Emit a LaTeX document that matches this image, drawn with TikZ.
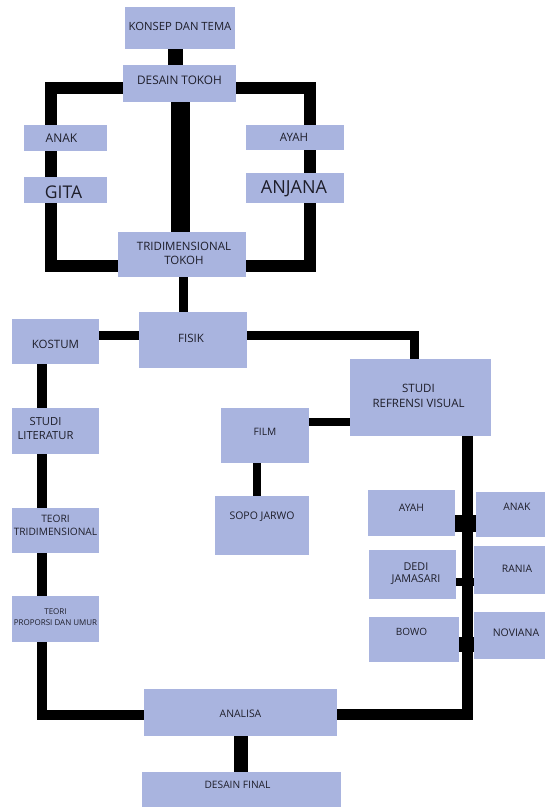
\documentclass[tikz,border=0pt]{standalone}
\usepackage{fontspec}
\setmainfont{Open Sans}
\definecolor{boxc}{HTML}{A9B4DF}
\definecolor{txtc}{HTML}{1E1E2A}
\newcommand\fsz[2]{\fontsize{#1}{#2}\selectfont}
\pgfdeclarelayer{back}
\pgfdeclarelayer{bg}
\pgfsetlayers{back,bg,main}
\begin{document}
\begin{tikzpicture}[x=1pt,y=-1pt,
  bx/.style={fill=boxc, inner sep=0pt, outer sep=0pt},
  lbl/.style={text=txtc, align=center, inner sep=0pt},
  cn/.style={draw=black, line width=#1}]
\begin{pgfonlayer}{back}
\fill[white] (0,0) rectangle (545,807);
\end{pgfonlayer}
\useasboundingbox (0,0) rectangle (545,807);

% boxes
\node[bx,minimum width=110pt,minimum height=42pt] (konsep) at (180,28) {};
\node[bx,minimum width=113pt,minimum height=37pt] (desain) at (179.5,83.5) {};
\node[bx,minimum width=83pt,minimum height=26pt] (anakL) at (65.5,138) {};
\node[bx,minimum width=83pt,minimum height=26pt] (gita) at (65.5,190) {};
\node[bx,minimum width=98pt,minimum height=25pt] (ayahT) at (295,137.5) {};
\node[bx,minimum width=98pt,minimum height=30pt] (anjana) at (295,188) {};
\node[bx,minimum width=128pt,minimum height=45pt] (tri) at (182,254.5) {};
\node[bx,minimum width=108pt,minimum height=56pt] (fisik) at (193,340) {};
\node[bx,minimum width=87pt,minimum height=45pt] (kostum) at (55.5,341.5) {};
\node[bx,minimum width=87pt,minimum height=46pt] (studlit) at (55.5,431) {};
\node[bx,minimum width=87pt,minimum height=45pt] (teoritri) at (55.5,530.5) {};
\node[bx,minimum width=87pt,minimum height=46pt] (teoriprop) at (55.5,619) {};
\node[bx,minimum width=88pt,minimum height=55pt] (film) at (265,435.5) {};
\node[bx,minimum width=94pt,minimum height=59pt] (sopo) at (262,525.5) {};
\node[bx,minimum width=141pt,minimum height=77pt] (studiref) at (420.5,397.5) {};
\node[bx,minimum width=87pt,minimum height=46pt] (ayahR) at (411.5,513) {};
\node[bx,minimum width=69pt,minimum height=45pt] (anakR) at (510.5,514.5) {};
\node[bx,minimum width=87pt,minimum height=49pt] (dedi) at (412.5,574.5) {};
\node[bx,minimum width=71pt,minimum height=48pt] (rania) at (509.5,570) {};
\node[bx,minimum width=90pt,minimum height=45pt] (bowo) at (414,639.5) {};
\node[bx,minimum width=71pt,minimum height=47pt] (noviana) at (509.5,635.5) {};
\node[bx,minimum width=193pt,minimum height=47pt] (analisa) at (240.5,712.5) {};
\node[bx,minimum width=199pt,minimum height=35pt] (final) at (241.5,789.5) {};

% texts
\node[lbl,font=\fsz{11.3}{13}] (konsepT) at ([yshift=2pt]konsep.center) {KONSEP DAN TEMA};
\node[lbl,font=\fsz{11.8}{13}] (desainT) at ([yshift=3pt]desain.center) {DESAIN TOKOH};
\node[lbl,font=\fsz{12}{14}] (anakLT) at ([xshift=-4pt]anakL.center) {ANAK};
\node[lbl,font=\fsz{17.5}{19}] (gitaT) at ([xshift=-2pt,yshift=-2pt]gita.center) {GITA};
\node[lbl,font=\fsz{11.5}{13}] (ayahTT) at ([xshift=-1pt]ayahT.center) {AYAH};
\node[lbl,font=\fsz{18}{19}] (anjanaT) at ([xshift=-1pt,yshift=-1pt]anjana.center) {ANJANA};
\node[lbl,font=\fsz{11.5}{14}] (triT) at ([xshift=2pt,yshift=1.5pt]tri.center) {TRIDIMENSIONAL\\TOKOH};
\node[lbl,font=\fsz{11.5}{13}] (fisikT) at ([xshift=-2pt,yshift=2pt]fisik.center) {FISIK};
\node[lbl,font=\fsz{11.5}{13}] (kostumT) at ([yshift=-3pt]kostum.center) {KOSTUM};
\node[lbl,font=\fsz{11.2}{14}] (studlitT) at ([xshift=-10pt,yshift=2.5pt]studlit.center) {STUDI\\LITERATUR};
\node[lbl,font=\fsz{10.2}{12.5}] (teoritriT) at ([yshift=5pt]teoritri.center) {TEORI\\TRIDIMENSIONAL};
\node[lbl,font=\fsz{8}{11}] (teoripropT) at ([yshift=2pt]teoriprop.center) {TEORI\\PROPORSI DAN UMUR};
\node[lbl,font=\fsz{10.2}{12}] (filmT) at ([yshift=4pt]film.center) {FILM};
\node[lbl,font=\fsz{10.5}{12}] (sopoT) at ([yshift=9pt]sopo.center) {SOPO JARWO};
\node[lbl,font=\fsz{11.5}{14.5}] (studirefT) at ([xshift=-2pt,yshift=1.5pt]studiref.center) {STUDI\\REFRENSI VISUAL};
\node[lbl,font=\fsz{10.3}{12}] (ayahRT) at ([yshift=5.5pt]ayahR.center) {AYAH};
\node[lbl,font=\fsz{10.3}{12}] (anakRT) at ([xshift=6.5pt,yshift=8pt]anakR.center) {ANAK};
\node[lbl,font=\fsz{10.8}{12}] (dediT) at ([xshift=3.5pt,yshift=1pt]dedi.center) {DEDI\\JAMASARI};
\node[lbl,font=\fsz{10.3}{12}] (raniaT) at ([xshift=7.5pt,yshift=1.5pt]rania.center) {RANIA};
\node[lbl,font=\fsz{10}{12}] (bowoT) at ([xshift=-2.5pt,yshift=8pt]bowo.center) {BOWO};
\node[lbl,font=\fsz{10.5}{12}] (novianaT) at ([xshift=6.5pt,yshift=3pt]noviana.center) {NOVIANA};
\node[lbl,font=\fsz{10.4}{12}] (analisaT) at ([yshift=-1pt]analisa.center) {ANALISA};
\node[lbl,font=\fsz{10.2}{12}] (finalT) at ([xshift=-4pt,yshift=4.5pt]final.center) {DESAIN FINAL};

% connectors
\begin{pgfonlayer}{bg}
\coordinate (lc) at (51,266);
\coordinate (rc) at (310,266);
\draw[cn=15pt] ([xshift=-4.5pt]konsep.south) -- ([xshift=-4.5pt]konsep.south |- desain.north);
\draw[cn=12pt] ([yshift=-4.5pt]desain.west) -| (lc) -- (lc -| tri.west);
\draw[cn=12pt] ([yshift=-4.5pt]desain.east) -| (rc) -- (rc -| tri.east);
\draw[cn=19pt] ([xshift=1pt]desain.south) -- ([xshift=1pt]desain.south |- tri.north);
\draw[cn=9pt] ([xshift=1.5pt]tri.south) -- ([xshift=1.5pt]tri.south |- fisik.north);
\draw[cn=9pt] ([yshift=6pt]kostum.east) -- ([yshift=6pt]kostum.east -| fisik.west);
\draw[cn=9pt] ([yshift=4.5pt]fisik.east) -| ([xshift=-6pt]studiref.north);
\draw[cn=10pt] ([xshift=-13.5pt]kostum.south) -- ([xshift=-13.5pt]kostum.south |- studlit.north);
\draw[cn=10pt] ([xshift=-13.5pt]studlit.south) -- ([xshift=-13.5pt]studlit.south |- teoritri.north);
\draw[cn=10pt] ([xshift=-13.5pt]teoritri.south) -- ([xshift=-13.5pt]teoritri.south |- teoriprop.north);
\draw[cn=10pt] ([xshift=-14pt]teoriprop.south) |- ([yshift=-2pt]analisa.west);
\draw[cn=11pt] ([xshift=46.5pt]studiref.south) |- ([yshift=-2pt]analisa.east);
\draw[cn=8pt] ([yshift=13.5pt]film.east) -- ([yshift=13.5pt]film.east -| studiref.west);
\draw[cn=8pt] ([xshift=-8pt]film.south) -- ([xshift=-8pt]film.south |- sopo.north);
\draw[cn=14pt] (analisa.south) -- (analisa.south |- final.north);
\draw[cn=17pt] ([yshift=-10.5pt]ayahR.east) -- ([yshift=-10.5pt]ayahR.east -| anakR.west);
\draw[cn=8pt] ([yshift=-7.5pt]dedi.east) -- ([yshift=-7.5pt]dedi.east -| rania.west);
\draw[cn=15pt] ([yshift=-5pt]bowo.east) -- ([yshift=-5pt]bowo.east -| noviana.west);
\end{pgfonlayer}
\end{tikzpicture}
\end{document}
